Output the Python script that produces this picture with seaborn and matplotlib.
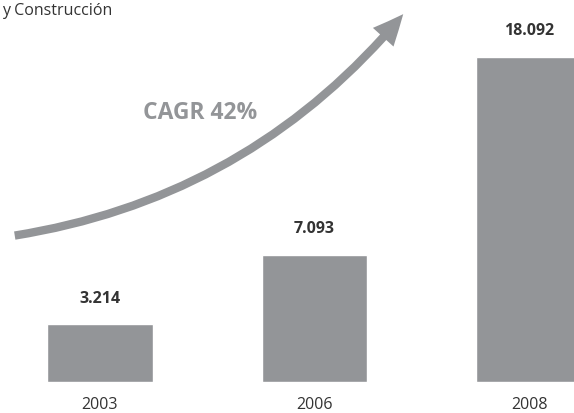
import matplotlib
matplotlib.use("Agg")
import matplotlib.pyplot as plt
import seaborn as sns
from matplotlib.patches import FancyArrowPatch

# data
years = ["2003", "2006", "2008"]
values = [3214, 7093, 18092]
title_text = "y Construcción"
cagr_text = "CAGR 42%"

bar_color = "#939598"
text_color = "#333333"

sns.set_theme(style="white")
plt.rcParams['font.family'] = ['Open Sans', 'DejaVu Sans']

W, H = 574, 413
fig = plt.figure(figsize=(W / 100, H / 100), dpi=100)
ax = fig.add_axes([0, 31 / H, 1, (H - 31) / H])

sns.barplot(x=years, y=values, color=bar_color, saturation=1, width=0.49, ax=ax)

px_per_cat = 214.5
ax.set_xlim(-100 / px_per_cat, (W - 100) / px_per_cat)
ax.set_ylim(0, max(values) * (H - 31) / 325)

for i, v in enumerate(values):
    ax.annotate(f"{v:,}".replace(",", "."), (i, v), xytext=(0, 18.5),
                textcoords="offset points", ha="center", va="center",
                fontsize=11.5, fontweight="bold", color=text_color)

ax.tick_params(axis="x", length=0, pad=11, labelsize=11.5, colors=text_color)
ax.set_yticks([])
ax.set_xlabel("")
ax.set_ylabel("")
sns.despine(ax=ax, left=True, bottom=True, top=True, right=True)

# title fragment at top left
fig.text(2 / W, 1 - 11 / H, title_text, ha="left", va="center",
         fontsize=11.5, color=text_color)

# growth arrow
arrow = FancyArrowPatch((12 / W, 1 - 236 / H), (405 / W, 1 - 12 / H),
                        transform=fig.transFigure,
                        connectionstyle="arc3,rad=0.19",
                        arrowstyle="simple,tail_width=0.3,head_width=1.0,head_length=1.1",
                        mutation_scale=20, color=bar_color, lw=0)
fig.patches.append(arrow)

fig.text(200 / W, 1 - 113 / H, cagr_text, ha="center", va="center",
         fontsize=16.5, fontweight="bold", color=bar_color)

fig.savefig("out.png", dpi=100)
